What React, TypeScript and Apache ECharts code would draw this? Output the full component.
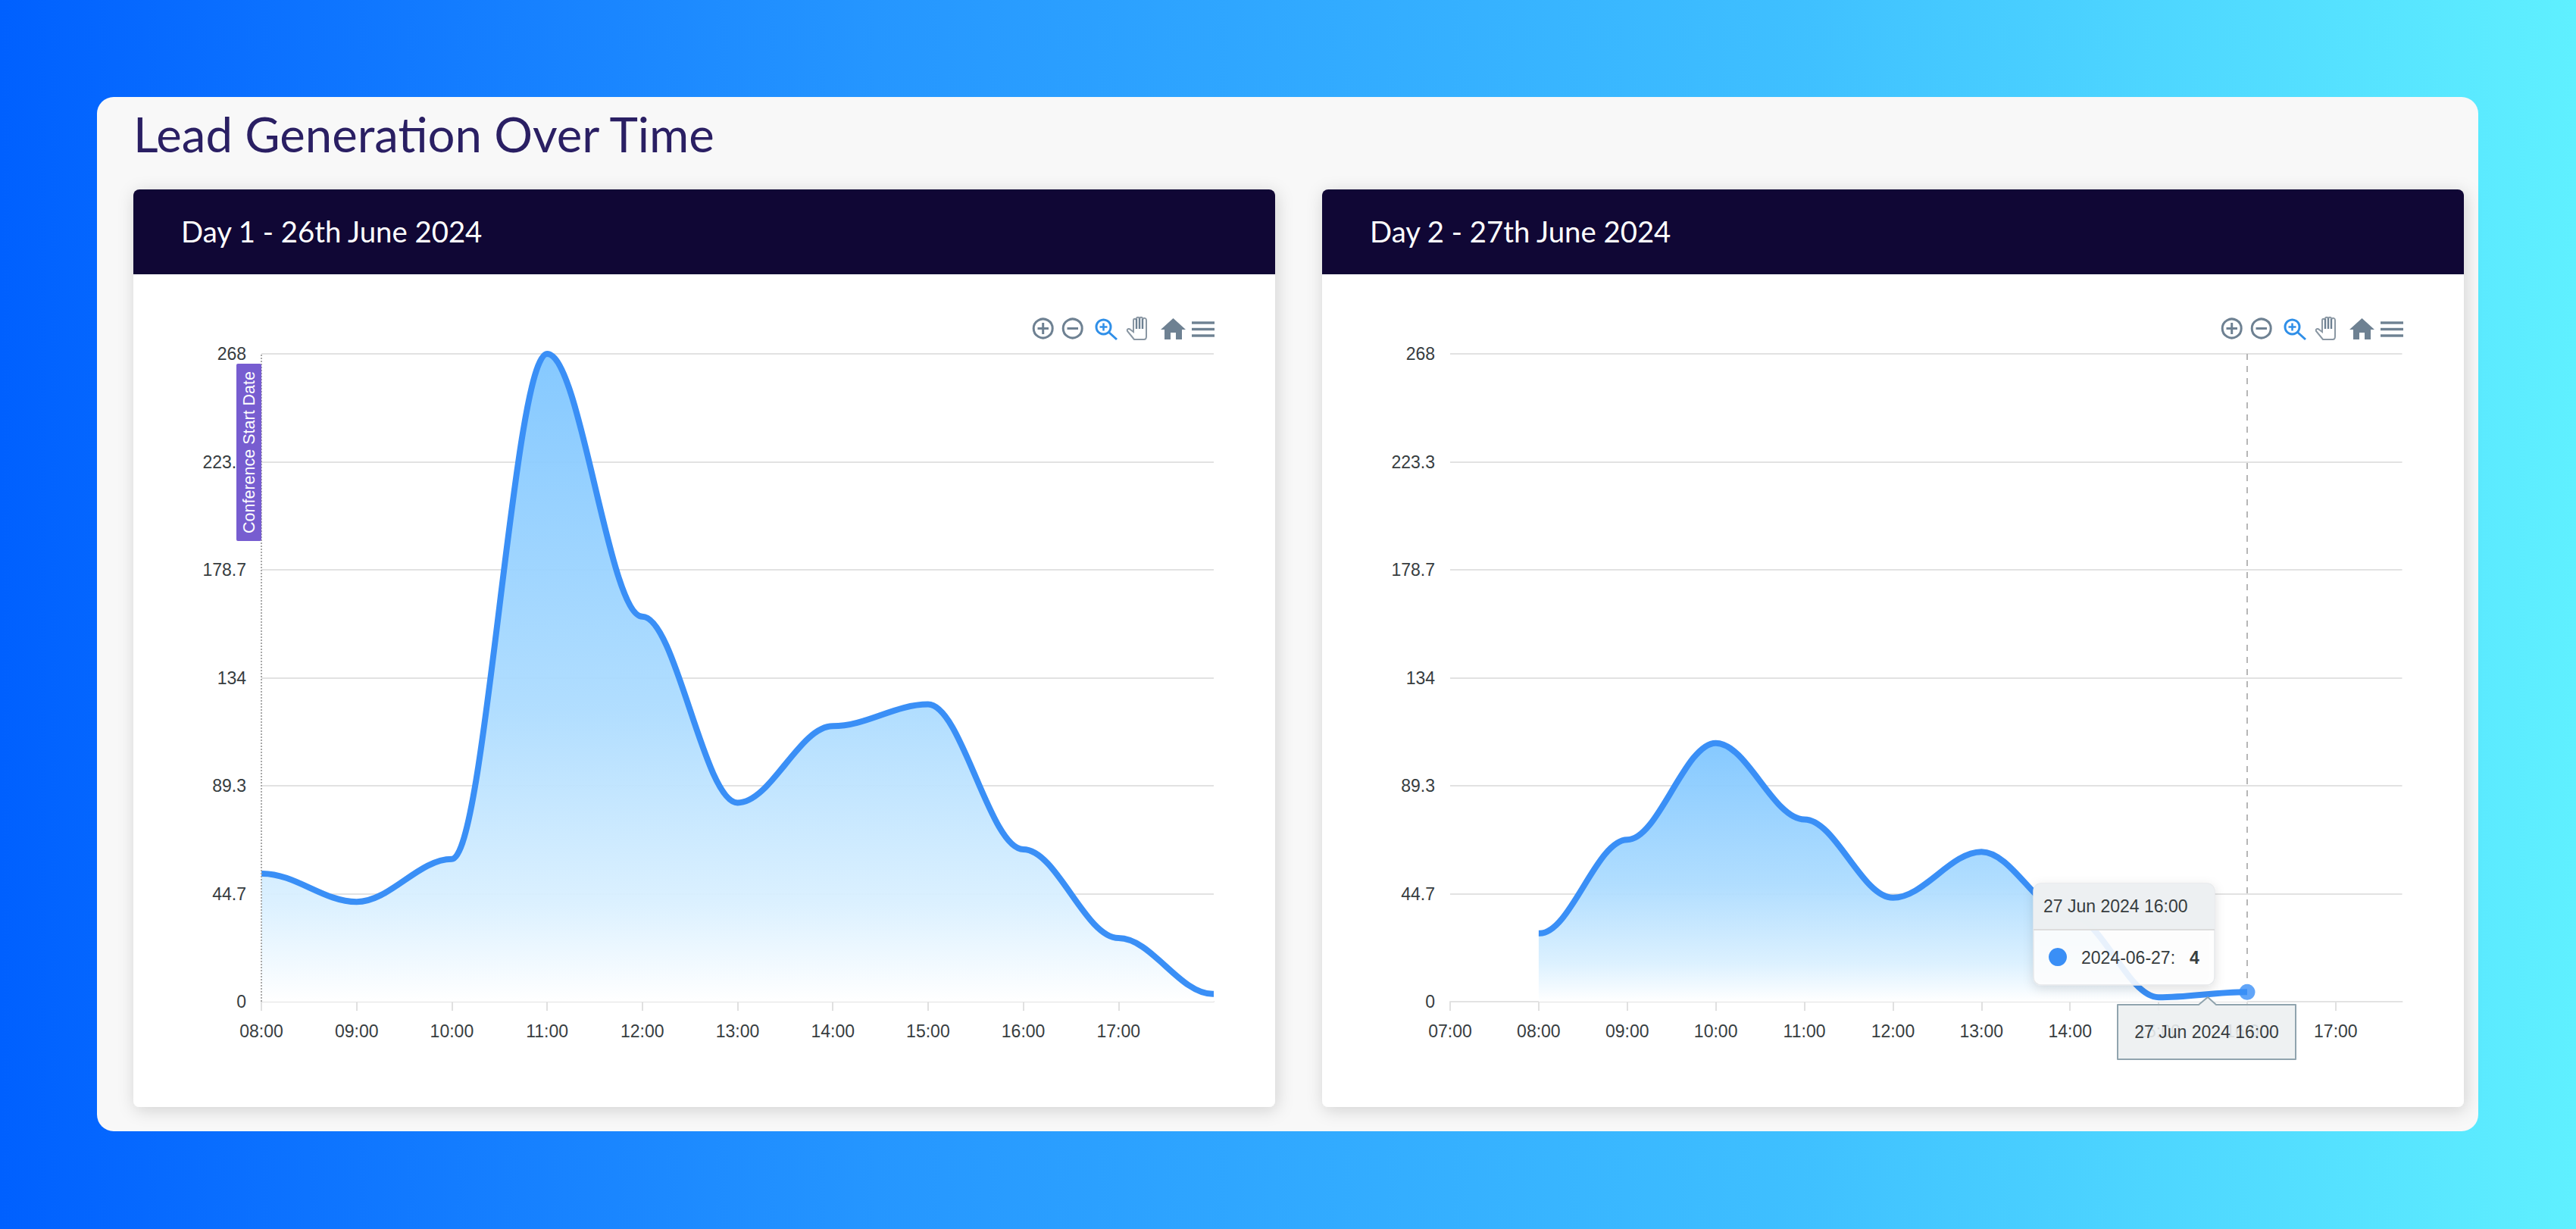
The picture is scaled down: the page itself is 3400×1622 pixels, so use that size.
import React, { useEffect, useRef } from "react";
import * as echarts from "echarts";

const hoursDay1 = [8, 9, 10, 11, 12, 13, 14, 15, 16, 17, 18];
const leadsDay1 = [53, 41.3, 59, 268, 159.3, 82.3, 114, 123, 63, 26.3, 3.2];
const hoursDay2 = [8, 9, 10, 11, 12, 13, 14, 15, 16];
const leadsDay2 = [28.3, 67, 107, 75.4, 43, 62, 35.7, 1.8, 4];
const xTicksDay1 = [8, 9, 10, 11, 12, 13, 14, 15, 16, 17];
const xTicksDay2 = [7, 8, 9, 10, 11, 12, 13, 14, 15, 16, 17];
const yTickLabels = ["0", "44.7", "89.3", "134", "178.7", "223.3", "268"];
const Y_MAX = 268;
const TITLE = "Lead Generation Over Time";
const DAY1_TITLE = "Day 1 - 26th June 2024";
const DAY2_TITLE = "Day 2 - 27th June 2024";
const ANNOTATION = "Conference Start Date";
const TOOLTIP_TIME = "27 Jun 2024 16:00";
const TOOLTIP_SERIES = "2024-06-27:";
const TOOLTIP_VALUE = "4";

const SANS = "'Liberation Sans', Arial, sans-serif";
const ROUND = "Lato, 'Noto Sans', sans-serif";
const LINE = "#3a8ff6";
const ICON = "#6e8192";
const TEXT = "#373d3f";

echarts.graphic.registerShape(
  "handIcon",
  echarts.graphic.extendPath(
    "M10 30 L1 19 C0 16 3 15 5 17 L9 20 L9 5 C9 2 13 2 13 5 L13 3 C13 0 17 0 17 3 L17 3 C17 0 21 0 21 3 L21 4 C22 1 26 1 26 5 L26 26 C26 29 25 30 23 30 Z",
    {}
  )
);

const hourLabel = (v: number) => `${String(Math.round(v)).padStart(2, "0")}:00`;

function toolbar(dx: number) {
  const stroke = { stroke: ICON, lineWidth: 3, fill: "none" };
  const z = 5;
  const line = (x1: number, y1: number, x2: number, y2: number, color = ICON, w = 3) => ({
    type: "line", z, silent: true,
    shape: { x1: x1 + dx, y1, x2: x2 + dx, y2 },
    style: { stroke: color, lineWidth: w },
  });
  return [
    { type: "circle", z, silent: true, shape: { cx: 1376.7 + dx, cy: 433.5, r: 12.5 }, style: stroke },
    line(1369.5, 433.5, 1384, 433.5),
    line(1376.7, 426, 1376.7, 441),
    { type: "circle", z, silent: true, shape: { cx: 1415.7 + dx, cy: 433.5, r: 12.5 }, style: stroke },
    line(1408.5, 433.5, 1423, 433.5),
    { type: "circle", z, silent: true, shape: { cx: 1456.5 + dx, cy: 431.5, r: 9.5 }, style: { stroke: "#2f8fe8", lineWidth: 3, fill: "none" } },
    line(1451.5, 431.5, 1461.5, 431.5, "#2f8fe8", 2.5),
    line(1456.5, 426.5, 1456.5, 436.5, "#2f8fe8", 2.5),
    line(1463.5, 438.5, 1474, 448, "#2f8fe8", 3),
    { type: "handIcon", z, silent: true, x: 1487 + dx, y: 418, style: { stroke: "#8a97a3", lineWidth: 2, fill: "#fff" } },
    line(1500, 421, 1500, 434, ICON, 2.4),
    line(1504, 420, 1504, 434, ICON, 2.4),
    line(1508, 421, 1508, 434, ICON, 2.4),
    {
      type: "polygon", z, silent: true,
      shape: {
        points: [
          [1548.5 + dx, 420], [1565 + dx, 435], [1560 + dx, 435], [1560 + dx, 448], [1552 + dx, 448], [1552 + dx, 439],
          [1545 + dx, 439], [1545 + dx, 448], [1537 + dx, 448], [1537 + dx, 435], [1532 + dx, 435],
        ],
      },
      style: { fill: ICON },
    },
    line(1573, 426, 1603, 426, ICON, 3.4),
    line(1573, 434.5, 1603, 434.5, ICON, 3.4),
    line(1573, 443, 1603, 443, ICON, 3.4),
  ];
}

function card(x: number, title: string) {
  return [
    {
      type: "rect", z: -9, silent: true,
      shape: { x, y: 250, width: 1507, height: 1211, r: 8 },
      style: { fill: "#ffffff", shadowBlur: 22, shadowOffsetX: 2, shadowOffsetY: 4, shadowColor: "rgba(0,0,0,0.16)" },
    },
    {
      type: "rect", z: -8, silent: true,
      shape: { x, y: 250, width: 1507, height: 112, r: [8, 8, 0, 0] },
      style: { fill: "#100735" },
    },
    {
      type: "text", z: -7, silent: true, x: x + 63, y: 305,
      style: { text: title, fill: "#ffffff", fontSize: 38.3, fontFamily: ROUND, textVerticalAlign: "middle" },
    },
  ];
}

function tooltipGraphics() {
  const z = 60;
  const txt = (text: string, x: number, y: number, extra: object = {}) => ({
    type: "text", z: z + 2, silent: true, x, y,
    style: { text, fill: TEXT, fontSize: 23, fontFamily: SANS, textVerticalAlign: "middle", ...extra },
  });
  return [
    {
      type: "rect", z, silent: true,
      shape: { x: 2684, y: 1166, width: 239, height: 134, r: 10 },
      style: { fill: "rgba(255,255,255,0.88)", stroke: "#e6e8ea", lineWidth: 1.5, shadowBlur: 14, shadowOffsetY: 4, shadowColor: "rgba(0,0,0,0.14)" },
    },
    {
      type: "rect", z: z + 1, silent: true,
      shape: { x: 2684, y: 1166, width: 239, height: 61, r: [10, 10, 0, 0] },
      style: { fill: "rgba(236,239,241,0.95)" },
    },
    { type: "line", z: z + 1, silent: true, shape: { x1: 2684, y1: 1227, x2: 2923, y2: 1227 }, style: { stroke: "#dddddd", lineWidth: 2 } },
    txt(TOOLTIP_TIME, 2697, 1196),
    { type: "circle", z: z + 2, silent: true, shape: { cx: 2716, cy: 1263, r: 12 }, style: { fill: LINE } },
    txt(TOOLTIP_SERIES, 2747, 1264),
    txt(TOOLTIP_VALUE, 2890, 1264, { fontWeight: "bold" }),
    {
      type: "polygon", z, silent: true,
      shape: { points: [[2795, 1326], [2902, 1326], [2914, 1316], [2925, 1326], [3030, 1326], [3030, 1398], [2795, 1398]] },
      style: { fill: "rgba(236,239,241,0.9)", stroke: "#90a4ae", lineWidth: 2, lineJoin: "round" },
    },
    txt(TOOLTIP_TIME, 2912.5, 1362, { textAlign: "center" }),
  ];
}

function xAxis(gridIndex: number, min: number, max: number, ticks: number[]) {
  return {
    type: "value", gridIndex, min, max, interval: 1,
    axisLine: { show: true, onZero: false, lineStyle: { color: "#e3e3e3", width: 2 } },
    axisTick: { show: true, length: 12, customValues: ticks, lineStyle: { color: "#e0e0e0", width: 2 } },
    axisLabel: {
      show: true, customValues: ticks, margin: 27, fontSize: 23, fontFamily: SANS, color: TEXT,
      hideOverlap: false, showMinLabel: true, showMaxLabel: true, formatter: hourLabel,
    },
    splitLine: { show: false },
  };
}

function yAxis(gridIndex: number) {
  return {
    type: "value", gridIndex, min: 0, max: Y_MAX, interval: Y_MAX / 6,
    axisLine: { show: false }, axisTick: { show: false },
    axisLabel: {
      margin: 20, fontSize: 23, fontFamily: SANS, color: TEXT,
      formatter: (v: number) => yTickLabels[Math.round(v / (Y_MAX / 6))],
    },
    splitLine: { show: true, lineStyle: { color: "#e2e2e2", width: 2 } },
  };
}

// The reference's spline is flat at both ends as well as at every point. ECharts only
// flattens at inner points, so each end repeats its value a hair inside the range.
const END_GUARD = 0.012;
function curvePoints(hours: number[], values: number[]) {
  const pts = hours.map((h, i) => [h, values[i]]);
  const last = pts.length - 1;
  return [pts[0], [hours[0] + END_GUARD, values[0]], ...pts.slice(1, last), [hours[last] - END_GUARD, values[last]], pts[last]];
}

function areaSeries(idx: number, hours: number[], values: number[], markLine: object) {
  return {
    type: "line", xAxisIndex: idx, yAxisIndex: idx, z: 3,
    data: curvePoints(hours, values),
    smooth: 0.35, smoothMonotone: "x", showSymbol: false, symbol: "none",
    lineStyle: { color: LINE, width: 8 },
    areaStyle: {
      opacity: 0.95,
      color: new echarts.graphic.LinearGradient(0, 0, 0, 1, [
        { offset: 0, color: "#7fc6ff" },
        { offset: 0.55, color: "#addcff" },
        { offset: 0.85, color: "#daf0ff" },
        { offset: 1, color: "#ffffff" },
      ]),
    },
    markLine,
  };
}

export default function App() {
  const ref = useRef<HTMLDivElement>(null);
  useEffect(() => {
    document.body.style.margin = "0";
    const chart = echarts.init(ref.current!, undefined, { renderer: "svg" });
    chart.setOption({
      animation: false,
      backgroundColor: new echarts.graphic.LinearGradient(0, 0, 1, 0, [
        { offset: 0, color: "#0060ff" },
        { offset: 0.34, color: "#2596ff" },
        { offset: 0.7, color: "#3fc0ff" },
        { offset: 1, color: "#5ff0ff" },
      ]),
      graphic: {
        elements: [
          {
            type: "rect", z: -10, silent: true,
            shape: { x: 128, y: 128, width: 3143, height: 1365, r: 22 },
            style: { fill: "#f8f8f8" },
          },
          {
            type: "text", z: -9, silent: true, x: 176, y: 176,
            style: { text: TITLE, fill: "#2a1f63", fontSize: 63.5, fontFamily: ROUND, textVerticalAlign: "middle" },
          },
          ...card(176, DAY1_TITLE),
          ...card(1745, DAY2_TITLE),
          ...toolbar(0),
          ...toolbar(1569),
          ...tooltipGraphics(),
        ],
      },
      grid: [
        { left: 345, top: 467, width: 1257, height: 855 },
        { left: 1914, top: 467, width: 1256.5, height: 855 },
      ],
      xAxis: [xAxis(0, 8, 18, xTicksDay1), xAxis(1, 7, 17.75, xTicksDay2)],
      yAxis: [yAxis(0), yAxis(1)],
      series: [
        areaSeries(0, hoursDay1, leadsDay1, {
          silent: true, symbol: "none", animation: false,
          lineStyle: { color: "#a9a9a9", width: 2, type: "dotted" },
          label: {
            show: true, formatter: ANNOTATION, position: "insideEndTop", distance: [13, 0],
            color: "#ffffff", fontSize: 21.5, fontFamily: SANS, backgroundColor: "#775dd0",
            borderRadius: 2, padding: [6, 10, 5, 10],
          },
          data: [{ xAxis: 8 }],
        }),
        areaSeries(1, hoursDay2, leadsDay2, {
          silent: true, symbol: "none", animation: false,
          lineStyle: { color: "#b6b6b6", width: 2, type: [8, 8] },
          label: { show: false },
          data: [[{ coord: [16, Y_MAX] }, { coord: [16, leadsDay2[leadsDay2.length - 1] + 5] }]],
        }),
        {
          type: "scatter", xAxisIndex: 1, yAxisIndex: 1, z: 5,
          symbol: "circle", symbolSize: 21,
          itemStyle: { color: LINE, borderColor: "#ffffff", borderWidth: 0 },
          data: [[hoursDay2[hoursDay2.length - 1], leadsDay2[leadsDay2.length - 1]]],
        },
      ],
    });
    return () => chart.dispose();
  }, []);
  return <div ref={ref} style={{ width: 3400, height: 1622 }} />;
}
